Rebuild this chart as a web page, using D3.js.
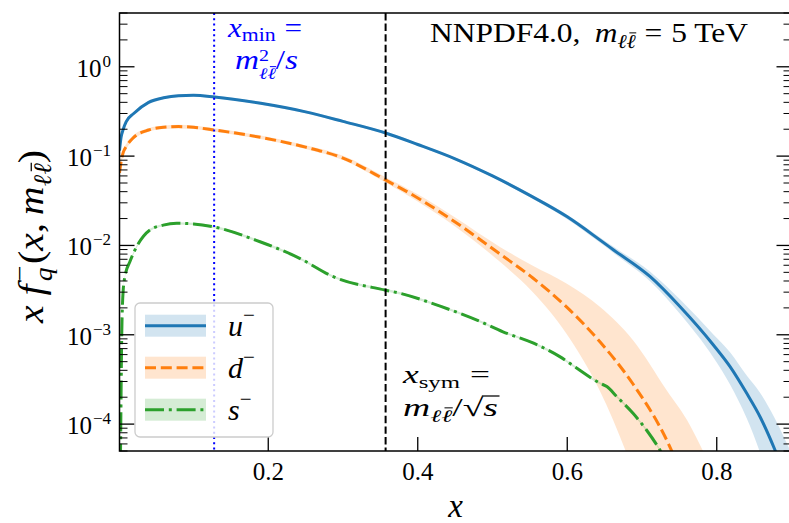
<!DOCTYPE html>
<html><head><meta charset="utf-8">
<script src="https://cdn.jsdelivr.net/npm/d3@7"></script>
<style>body{margin:0;background:#fff}svg{display:block}text{font-family:"Liberation Serif","DejaVu Serif",serif}</style>
</head><body><svg id="c" width="789" height="523"></svg>
<script>
// ---- data ----
const uX   = [0.001,0.003,0.006,0.01,0.02,0.04,0.06,0.08,0.1,0.128,0.19,0.25,0.3,0.357,0.4,0.45,0.5,0.55,0.6,0.644,0.662,0.711,0.751,0.7955,0.8178,0.8401,0.8579,0.8779,0.9];
const uMid = [0.115,0.16,0.2,0.243,0.30,0.40,0.45,0.475,0.48,0.46,0.39,0.313,0.245,0.1816,0.135,0.0933,0.06,0.0363,0.0209,0.01148,0.00891,0.00447,0.00206,0.000769,0.00044,0.000221,0.000121,0.0000513,0.0000166];
const uLo  = [0.111,0.155,0.193,0.235,0.29,0.386,0.435,0.459,0.464,0.444,0.377,0.302,0.237,0.1754,0.1304,0.0901,0.058,0.0347,0.0197,0.01071,0.00822,0.00394,0.00171,0.000557,0.000278,0.000116,0.0000482,0.0000145,0.0000033];
const uHi  = [0.119,0.166,0.207,0.252,0.31,0.414,0.466,0.492,0.497,0.476,0.404,0.324,0.254,0.188,0.1397,0.0966,0.0621,0.038,0.0221,0.0123,0.00966,0.00507,0.00248,0.00101,0.000636,0.00035,0.000225,0.000115,0.0000468];

const dX   = [0.001,0.003,0.006,0.01,0.02,0.04,0.06,0.08,0.1,0.128,0.19,0.25,0.3,0.357,0.4,0.45,0.51,0.554,0.599,0.644,0.688,0.733,0.76,0.79];
const dMid = [0.065,0.085,0.11,0.128,0.162,0.196,0.21,0.214,0.21,0.196,0.162,0.126,0.095,0.054,0.034,0.0183,0.00802,0.00432,0.00205,0.00083,0.000281,0.0000664,0.00002,0.000005];
const dLo  = [0.0575,0.0776,0.101,0.119,0.153,0.1875,0.201,0.204,0.201,0.1875,0.155,0.12,0.0902,0.0505,0.031,0.0163,0.00655,0.003,0.00103,0.000232,0.0000302,0.0000021,0.0000002,0.00000002];
const dHi  = [0.0724,0.0933,0.119,0.137,0.172,0.2056,0.22,0.224,0.22,0.2056,0.17,0.132,0.101,0.058,0.0373,0.0205,0.0096,0.00592,0.00375,0.00205,0.00087,0.00024,0.000112,0.0000355];

const sX   = [0.001,0.0025,0.004,0.006,0.0083,0.015,0.024,0.0417,0.0595,0.0775,0.1,0.126,0.189,0.242,0.287,0.356,0.376,0.43,0.48,0.514,0.555,0.59,0.613,0.644,0.653,0.666,0.688,0.706,0.724,0.75];
const sMid = [0.0000032,0.000063,0.001,0.0032,0.0045,0.0066,0.0097,0.0149,0.0169,0.0177,0.0174,0.0162,0.011,0.00718,0.00447,0.00317,0.00292,0.00209,0.00145,0.00108,0.000804,0.000569,0.000422,0.000286,0.000263,0.000204,0.000132,0.0000859,0.0000513,0.00002];
const sLo  = [0.0000031,0.000061,0.00097,0.0031,0.00437,0.0064,0.0094,0.01445,0.0164,0.0172,0.0169,0.0157,0.01067,0.00696,0.00434,0.00307,0.00283,0.00203,0.00141,0.00105,0.00078,0.000552,0.000409,0.000277,0.000255,0.000198,0.000128,0.0000833,0.0000498,0.0000194];
const sHi  = [0.0000033,0.000065,0.00103,0.0033,0.00464,0.0068,0.01,0.01535,0.0174,0.0182,0.0179,0.0167,0.01133,0.0074,0.0046,0.00327,0.00301,0.00215,0.00149,0.00111,0.000828,0.000586,0.000435,0.000295,0.000271,0.00021,0.000136,0.0000885,0.0000528,0.0000206];

const xTicks = [0.2,0.4,0.6,0.8];
const xTickLabels = ["0.2","0.4","0.6","0.8"];
const yTicks = [1e-4,1e-3,1e-2,1e-1,1];
const yTickExp = ["−4","−3","−2","−1","0"];
const xMinLine = 0.1276;   // m^2/s
const xSymLine = 0.357;    // m/sqrt(s)

// ---- setup ----
const svg = d3.select('#c');
const L=119.5, R=791.5, T=13, B=451;
const x = d3.scaleLinear().domain([0.001,0.9]).range([L,R]);
const y = d3.scaleLog().domain([5e-5,4]).range([B,T]);
const C = {u:'#1f77b4', d:'#ff7f0e', s:'#2ca02c'};

svg.append('defs').append('clipPath').attr('id','clip').append('rect')
  .attr('x',L).attr('y',T).attr('width',R-L).attr('height',B-T);
const plot = svg.append('g').attr('clip-path','url(#clip)');

function series(X, M, Lo, Hi, color, dash){
  const rows = X.map((v,i)=>({x:v, m:M[i], lo:Lo[i], hi:Hi[i]}));
  const area = d3.area().x(d=>x(d.x)).y0(d=>y(d.lo)).y1(d=>y(d.hi)).curve(d3.curveMonotoneX);
  const line = d3.line().x(d=>x(d.x)).y(d=>y(d.m)).curve(d3.curveMonotoneX);
  plot.append('path').attr('d',area(rows)).attr('fill',color).attr('fill-opacity',0.2);
  plot.append('path').attr('d',line(rows)).attr('fill','none').attr('stroke',color)
    .attr('stroke-width',3).attr('stroke-dasharray',dash);
}
series(uX,uMid,uLo,uHi,C.u,null);
series(dX,dMid,dLo,dHi,C.d,'11,4.8');
series(sX,sMid,sLo,sHi,C.s,'19,4.8,3,4.8');

// vertical lines
svg.append('line').attr('x1',x(xMinLine)).attr('x2',x(xMinLine)).attr('y1',T).attr('y2',B)
  .attr('stroke','#0000ff').attr('stroke-width',2).attr('stroke-dasharray','2,3.3');
svg.append('line').attr('x1',x(xSymLine)).attr('x2',x(xSymLine)).attr('y1',T).attr('y2',B)
  .attr('stroke','#000').attr('stroke-width',2).attr('stroke-dasharray','7.4,3.2');

// ---- axes ----
const ax = svg.append('g');
ax.append('rect').attr('x',L).attr('y',T).attr('width',R-L).attr('height',B-T)
  .attr('fill','none').attr('stroke','#000').attr('stroke-width',1.5);
xTicks.forEach((t,i)=>{
  ax.append('line').attr('x1',x(t)).attr('x2',x(t)).attr('y1',B).attr('y2',B-14).attr('stroke','#000').attr('stroke-width',1.3);
  ax.append('text').attr('x',x(t)).attr('y',480).attr('text-anchor','middle').attr('font-size',25).text(xTickLabels[i]);
});
const minors = [];
for (let e=-5;e<=0;e++) for (let k=2;k<=9;k++){ const v=k*Math.pow(10,e); if(v>=5e-5 && v<=4) minors.push(v); }
minors.forEach(v=>{
  [[L,L+8],[R,R-8]].forEach(([a,b])=>ax.append('line').attr('x1',a).attr('x2',b).attr('y1',y(v)).attr('y2',y(v)).attr('stroke','#000').attr('stroke-width',1));
});
yTicks.forEach((v,i)=>{
  [[L,L+15],[R,R-15]].forEach(([a,b])=>ax.append('line').attr('x1',a).attr('x2',b).attr('y1',y(v)).attr('y2',y(v)).attr('stroke','#000').attr('stroke-width',1.3));
  const g = ax.append('g');
  const t1 = g.append('text').attr('x',0).attr('y',0).attr('font-size',25).text('10');
  const w1 = t1.node().getComputedTextLength();
  const t2 = g.append('text').attr('x',w1+1).attr('y',-10).attr('font-size',17).text(yTickExp[i]);
  const w2 = t2.node().getComputedTextLength();
  g.attr('transform',`translate(${111-(w1+1+w2)},${y(v)+10})`);
});

// ---- math text helper ----
function mathLine(parent, items, o){
  const size=o.size, color=o.color||'#000';
  const g = parent.append('g');
  let cx=0;
  function draw(it, x0){
    const fs = size*(it.s||1);
    const by = (it.dy||0)*size;
    const t = g.append('text').attr('x',x0).attr('y',by).attr('font-size',fs)
      .attr('font-style',it.it?'italic':'normal').attr('fill',color).text(it.t);
    const w = t.node().getComputedTextLength();
    if (it.bar) g.append('line').attr('x1',x0+w*0.3).attr('x2',x0+w*1.05).attr('y1',by-0.78*fs).attr('y2',by-0.78*fs)
      .attr('stroke',color).attr('stroke-width',Math.max(1,fs*0.05));
    if (it.vinc) g.append('line').attr('x1',x0-1).attr('x2',x0+w+1).attr('y1',by-it.vinc*size).attr('y2',by-it.vinc*size)
      .attr('stroke',color).attr('stroke-width',Math.max(1,fs*0.05));
    return w;
  }
  items.forEach(it=>{
    if (it.sp!==undefined){ cx += it.sp*size; return; }
    if (it.stack){ let w=0; it.stack.forEach(s=>{ let xx=cx, ww=0; (Array.isArray(s)?s:[s]).forEach(q=>{ ww+=draw(q,xx+ww); }); w=Math.max(w,ww); }); cx+=w; return; }
    cx += draw(it,cx);
  });
  const k = o.width ? o.width/cx : 1;
  if (o.rot){ g.attr('transform', `translate(${o.x},${o.y}) rotate(${o.rot}) scale(${k},1) translate(${-cx/2},0)`); return g; }
  let ox = o.x;
  if (o.anchor==='middle') ox -= cx*k/2; else if (o.anchor==='end') ox -= cx*k;
  g.attr('transform', `translate(${ox},${o.y}) scale(${k},1)`);
  return g;
}
const ll = (s,dy)=>[{t:'ℓ',it:true,s:s,dy:dy},{t:'ℓ',it:true,s:s,dy:dy,bar:true}];

// axis labels
svg.append('text').attr('x',(L+R)/2).attr('y',517).attr('text-anchor','middle')
  .attr('font-size',33).attr('font-style','italic').text('x');
mathLine(svg, [
  {t:'x',it:true},{sp:0.25},{t:'f',it:true},{sp:0.08},
  {stack:[{t:'−',s:0.7,dy:-0.42},{t:'q',it:true,s:0.7,dy:0.25}]},
  {sp:0.04},{t:'('},{t:'x',it:true},{t:','},{sp:0.2},{t:'m',it:true},
  ...ll(0.7,0.22),{t:')'}
], {x:43, y:236.5, size:36, rot:-90, width:173});

// annotations
mathLine(svg, [
  {t:'NNPDF4.0,'},{sp:0.45},{t:'m',it:true},...ll(0.7,0.22),{sp:0.28},{t:'='},{sp:0.28},{t:'5 TeV'}
], {x:589, y:42, size:28, anchor:'middle', width:318});

mathLine(svg, [{t:'x',it:true},{t:'min',s:0.7,dy:0.15},{sp:0.28},{t:'='}],
  {x:265, y:37, size:27, anchor:'middle', color:'#0000ff', width:74});
mathLine(svg, [{t:'m',it:true},{stack:[{t:'2',s:0.6,dy:-0.3}, ll(0.6,0.38)]},{t:'/'},{t:'s',it:true}],
  {x:266.5, y:69, size:27, anchor:'middle', color:'#0000ff', width:63});

mathLine(svg, [{t:'x',it:true},{t:'sym',s:0.7,dy:0.2},{sp:0.28},{t:'='}],
  {x:446.5, y:383, size:25, anchor:'middle', width:87});
mathLine(svg, [{t:'m',it:true},...ll(0.7,0.22),{t:'/'},{t:'√'},{t:'s',it:true,vinc:0.8}],
  {x:450.5, y:416, size:25, anchor:'middle', width:95});

// ---- legend ----
const lg = svg.append('g');
lg.append('rect').attr('x',135).attr('y',303).attr('width',138).attr('height',134).attr('rx',5)
  .attr('fill','#fff').attr('fill-opacity',0.8).attr('stroke','#cccccc').attr('stroke-width',1.3);
const legItems = [
  {c:C.u, dash:null, name:'u', cy:325.7},
  {c:C.d, dash:'11,4.8', name:'d', cy:367.7},
  {c:C.s, dash:'19,4.8,3,4.8', name:'s', cy:409.7}
];
legItems.forEach(it=>{
  lg.append('rect').attr('x',145).attr('y',it.cy-11).attr('width',61).attr('height',22).attr('fill',it.c).attr('fill-opacity',0.2);
  lg.append('line').attr('x1',145).attr('x2',206).attr('y1',it.cy).attr('y2',it.cy).attr('stroke',it.c).attr('stroke-width',3).attr('stroke-dasharray',it.dash);
  mathLine(lg, [{t:it.name,it:true},{t:'−',s:0.7,dy:-0.45}], {x:228, y:it.cy+10, size:30});
});
</script></body></html>
